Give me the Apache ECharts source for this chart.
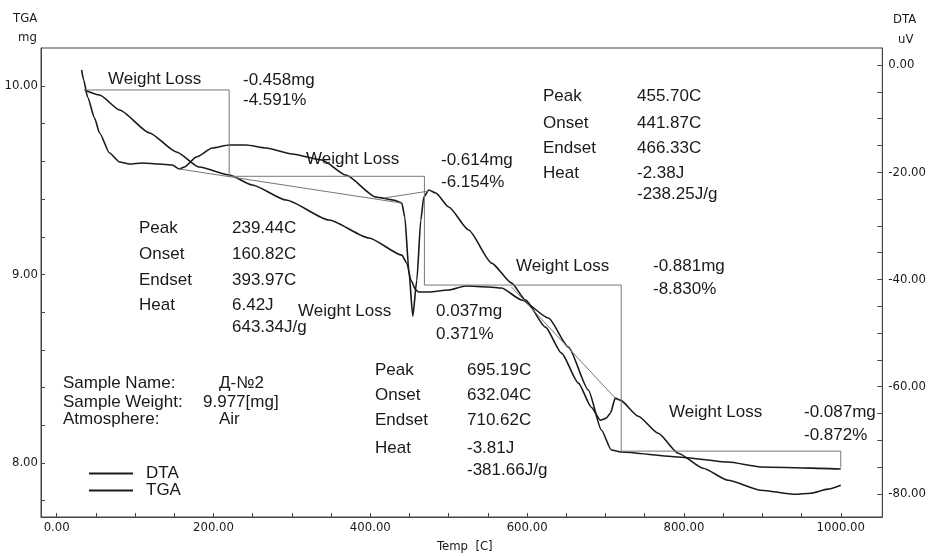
<!DOCTYPE html>
<html>
<head>
<meta charset="utf-8">
<script src="https://cdn.jsdelivr.net/npm/echarts@6/dist/echarts.min.js"></script>
<style>
html,body{margin:0;padding:0;background:#fff;}
#c{width:929px;height:556px;}
</style>
</head>
<body>
<div id="c"></div>
<script>
// ---- Data ----
// DTA curve (temperature °C, signal uV)
const dtaTemp = [31.8,34.4,39.4,48.3,54.7,67.4,80.2,92.9,109.4,131.0,147.6,156.5,162.8,178.1,198.5,220.1,241.7,267.2,300.3,338.4,368.9,407.1,430.0,440.2,444.0,449.1,454.2,459.3,464.4,468.2,474.6,483.5,500.0,525.4,554.7,580.2,598.0,623.4,643.8,665.4,681.9,693.4,701.0,706.1,712.5,718.8,741.7,767.2,792.6,824.4,856.2,898.2,941.5,961.8,983.5,1000];
const dtaVal  = [-0.93,-2.80,-5.97,-9.89,-12.69,-16.42,-18.10,-18.47,-18.28,-18.47,-18.66,-19.40,-19.03,-17.16,-15.49,-14.93,-14.93,-15.49,-16.60,-17.72,-20.52,-24.63,-25.19,-25.75,-28.36,-38.25,-46.83,-40.11,-28.92,-24.63,-23.32,-23.88,-26.49,-30.78,-36.94,-40.67,-43.84,-48.88,-53.73,-59.33,-63.81,-66.23,-65.86,-64.93,-62.13,-62.50,-65.49,-68.66,-72.39,-75.19,-77.43,-79.29,-80.04,-79.85,-79.10,-78.36];
// TGA curve (temperature °C, mass mg)
const tgaTemp = [35.6,54.7,80.2,118.3,152.7,181.9,220.1,249.4,292.6,347.3,398.2,440.2,446.6,451.7,458.0,461.8,474.6,500.0,521.6,550.9,567.4,592.9,627.2,652.7,678.1,694.7,707.4,720.1,792.6,856.2,898.2,961.8,1000];
const tgaVal  = [9.979,9.952,9.873,9.751,9.650,9.570,9.528,9.475,9.395,9.289,9.194,9.103,9.061,8.971,8.918,8.907,8.907,8.918,8.939,8.934,8.928,8.865,8.769,8.615,8.387,8.175,8.069,8.058,8.032,8.005,7.979,7.973,7.968];
// Weight-loss step lines (TGA axis)
const stepTemp = [35.6,220,220,469,469,720,720,1000,1000];
const stepMass = [9.979,9.979,9.521,9.521,8.944,8.944,8.063,8.063,7.976];
// DTA peak baselines (DTA axis)
const base1Temp = [156.5,440.2]; const base1Val = [-19.40,-25.75];
const base2Temp = [417.3,474.6]; const base2Val = [-24.81,-23.51];
const base3Temp = [580.2,712.5]; const base3Val = [-41.42,-62.13];
// Axis ticks and labels
const xTicks = [0,50,100,150,200,250,300,350,400,450,500,550,600,650,700,750,800,850,900,950,1000];
const xLabels = [0,200,400,600,800,1000];
const tgaTicks = [7.8,8.0,8.2,8.4,8.6,8.8,9.0,9.2,9.4,9.6,9.8,10.0];
const tgaLabels = [8,9,10];
const dtaTicks = [0,-5,-10,-15,-20,-25,-30,-35,-40,-45,-50,-55,-60,-65,-70,-75,-80];
const dtaLabels = [0,-20,-40,-60,-80];
// Annotation texts
const annText = [
  ['Weight Loss',108,81],['-0.458mg',243,82],['-4.591%',243,102],
  ['Peak',543,98],['455.70C',637,98],['Onset',543,125],['441.87C',637,125],
  ['Endset',543,150],['466.33C',637,150],['Heat',543,175],['-2.38J',637,175],['-238.25J/g',637,196],
  ['Weight Loss',306,161],['-0.614mg',441,162],['-6.154%',441,184],
  ['Peak',139,230],['239.44C',232,230],['Onset',139,256],['160.82C',232,256],
  ['Endset',139,282],['393.97C',232,282],['Heat',139,307],['6.42J',232,307],['643.34J/g',232,329],
  ['Weight Loss',298,313],['0.037mg',436,313],['0.371%',436,336],
  ['Weight Loss',516,268],['-0.881mg',653,268],['-8.830%',653,291],
  ['Peak',375,372],['695.19C',467,372],['Onset',375,397],['632.04C',467,397],
  ['Endset',375,422],['710.62C',467,422],['Heat',375,450],['-3.81J',467,450],['-381.66J/g',467,472],
  ['Weight Loss',669,414],['-0.087mg',804,414],['-0.872%',804,437],
  ['Sample Name:',63,385],['Д-№2',219,385],
  ['Sample Weight:',63,404],['9.977[mg]',203,404],
  ['Atmosphere:',63,421],['Air',219,421]
];

const zip = (a,b) => a.map((v,i)=>[v,b[i]]);
const FONT = '"Liberation Sans", Arial, sans-serif';
const NARROW = '"Liberation Sans Narrow", "DejaVu Sans Condensed", "Liberation Sans", sans-serif';
const INK = '#1a1a1a';

const chart = echarts.init(document.getElementById('c'));
const graphics = annText.map(t => ({
  type:'text', left:t[1], top:t[2]-10,
  style:{text:t[0], font:'17px '+FONT, fill:INK}
}));
graphics.push(
  {type:'text', left:13, top:12, style:{text:'TGA', font:'13px '+NARROW, fill:INK}},
  {type:'text', left:18, top:31, style:{text:'mg', font:'13px '+NARROW, fill:INK}},
  {type:'text', left:893, top:13, style:{text:'DTA', font:'13px '+NARROW, fill:INK}},
  {type:'text', left:898, top:33, style:{text:'uV', font:'13px '+NARROW, fill:INK}},
  {type:'text', left:437, top:540, style:{text:'Temp  [C]', font:'13px '+NARROW, fill:INK}}
);

const axisLabelStyle = {fontFamily: NARROW, fontSize: 13, color: INK};

chart.setOption({
  animation:false,
  backgroundColor:'#fff',
  grid:{left:41, right:45, top:48, bottom:39, show:true, borderColor:'#444', borderWidth:1},
  legend:{
    data:['DTA','TGA'], orient:'vertical', left:84, top:460,
    itemWidth:44, itemHeight:2, itemGap:0, icon:'rect',
    textStyle:{fontFamily:FONT, fontSize:17, color:INK, padding:[0,0,0,8]},
    selectedMode:false
  },
  xAxis:{
    type:'value', min:-20, max:1053,
    axisLine:{show:true, onZero:false, lineStyle:{color:'#444'}},
    axisTick:{show:true, inside:true, length:4, customValues:xTicks, lineStyle:{color:'#444'}},
    axisLabel:{customValues:xLabels, formatter:v=>v.toFixed(2), margin:4, ...axisLabelStyle},
    splitLine:{show:false}
  },
  yAxis:[
    {
      type:'value', min:7.7135, max:10.2016, position:'left',
      axisLine:{show:true, onZero:false, lineStyle:{color:'#444'}},
      axisTick:{show:true, inside:true, length:4, customValues:tgaTicks, lineStyle:{color:'#444'}},
      axisLabel:{customValues:tgaLabels, formatter:v=>v.toFixed(2), margin:3, ...axisLabelStyle},
      splitLine:{show:false}
    },
    {
      type:'value', min:-84.29, max:3.17, position:'right',
      axisLine:{show:true, onZero:false, lineStyle:{color:'#444'}},
      axisTick:{show:true, inside:true, length:5, customValues:dtaTicks, lineStyle:{color:'#444'}},
      axisLabel:{customValues:dtaLabels, formatter:v=>v.toFixed(2), margin:6, ...axisLabelStyle},
      splitLine:{show:false}
    }
  ],
  series:[
    {name:'DTA', type:'line', yAxisIndex:1, data:zip(dtaTemp,dtaVal), showSymbol:false,
     smooth:0.2, smoothMonotone:'x', lineStyle:{color:INK, width:1.6}, itemStyle:{color:INK}},
    {name:'TGA', type:'line', yAxisIndex:0, data:zip(tgaTemp,tgaVal), showSymbol:false,
     smooth:0.2, smoothMonotone:'x', lineStyle:{color:INK, width:1.6}, itemStyle:{color:INK}},
    {name:'steps', type:'line', yAxisIndex:0, data:zip(stepTemp,stepMass), showSymbol:false,
     lineStyle:{color:'#777', width:1}},
    {name:'base1', type:'line', yAxisIndex:1, data:zip(base1Temp,base1Val), showSymbol:false,
     lineStyle:{color:'#777', width:1}},
    {name:'base2', type:'line', yAxisIndex:1, data:zip(base2Temp,base2Val), showSymbol:false,
     lineStyle:{color:'#777', width:1}},
    {name:'base3', type:'line', yAxisIndex:1, data:zip(base3Temp,base3Val), showSymbol:false,
     lineStyle:{color:'#777', width:1}}
  ],
  graphic:graphics
});
</script>
</body>
</html>
